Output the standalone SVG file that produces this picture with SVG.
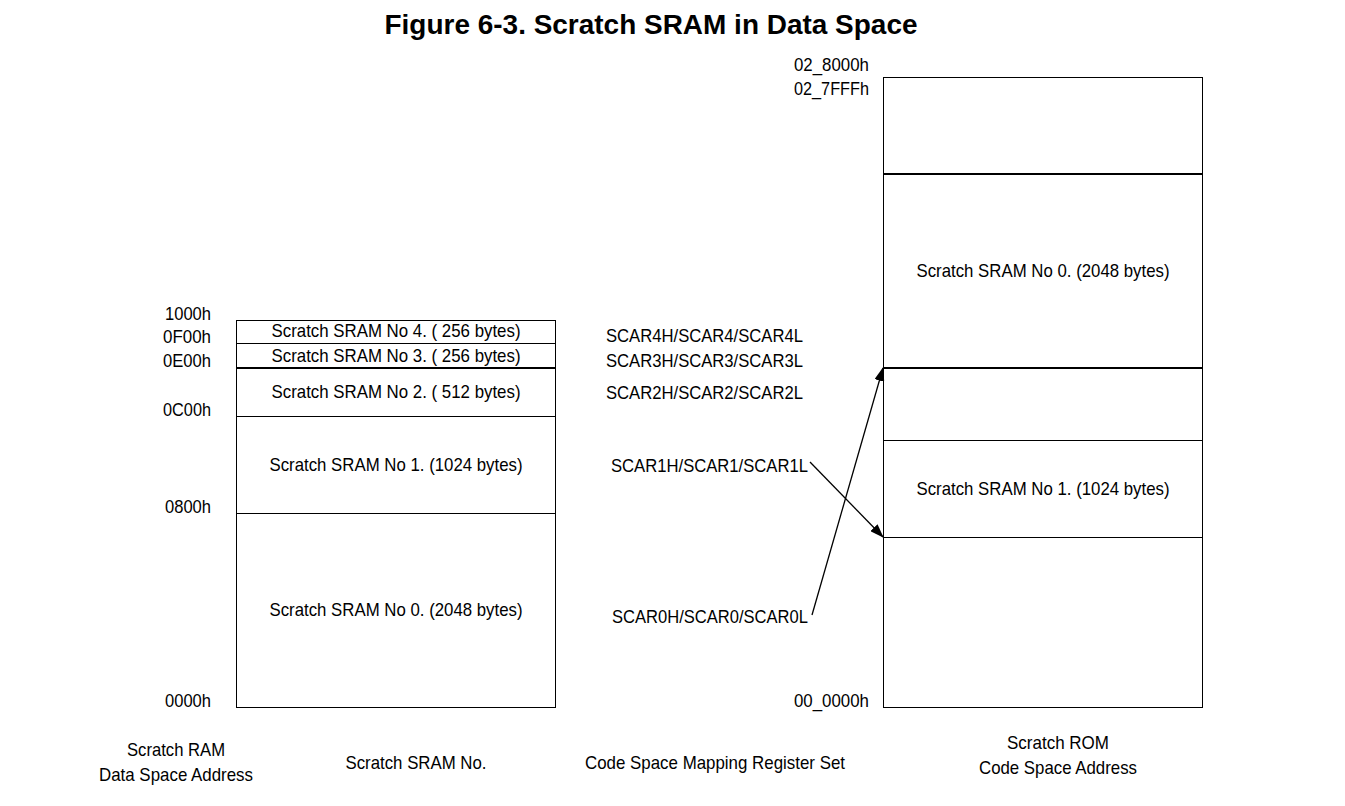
<svg xmlns="http://www.w3.org/2000/svg" width="1345" height="806" viewBox="0 0 1345 806">
<defs>
<marker id="ah" markerWidth="14" markerHeight="10" refX="13" refY="5" orient="auto" markerUnits="userSpaceOnUse"><path d="M0,0 L14,5 L0,10 Z" fill="#000"/></marker>
<style>
text{font-family:"Liberation Sans Narrow","Liberation Sans",Arial,sans-serif;font-size:19px;fill:#000}
.t{font-size:27px;font-weight:bold}
.m{text-anchor:middle}
.r{text-anchor:end}
.b{fill:#fff;stroke:#000;stroke-width:1}
.d{stroke:#000;stroke-width:1;fill:none}
.k{stroke:#000;stroke-width:2;fill:none}
.a{stroke:#000;stroke-width:1.3;fill:none;marker-end:url(#ah)}
</style>
</defs>
<rect width="1345" height="806" fill="#fff"/>
<text class="t m" x="651" y="34" textLength="533" lengthAdjust="spacingAndGlyphs">Figure 6-3. Scratch SRAM in Data Space</text>

<g id="ram">
<rect class="b" x="236.5" y="320.5" width="319" height="387"/>
<line class="d" x1="236" y1="343.5" x2="555" y2="343.5"/>
<line class="k" x1="236" y1="368" x2="555" y2="368"/>
<line class="d" x1="236" y1="416.5" x2="555" y2="416.5"/>
<line class="d" x1="236" y1="513.5" x2="555" y2="513.5"/>
<text class="m" x="396" y="337" textLength="249" lengthAdjust="spacingAndGlyphs">Scratch SRAM No 4. ( 256 bytes)</text>
<text class="m" x="396" y="362" textLength="249" lengthAdjust="spacingAndGlyphs">Scratch SRAM No 3. ( 256 bytes)</text>
<text class="m" x="396" y="398" textLength="249" lengthAdjust="spacingAndGlyphs">Scratch SRAM No 2. ( 512 bytes)</text>
<text class="m" x="396" y="471" textLength="253" lengthAdjust="spacingAndGlyphs">Scratch SRAM No 1. (1024 bytes)</text>
<text class="m" x="396" y="616" textLength="253" lengthAdjust="spacingAndGlyphs">Scratch SRAM No 0. (2048 bytes)</text>
</g>

<g id="ram-addr">
<text class="r" x="211" y="320" textLength="46" lengthAdjust="spacingAndGlyphs">1000h</text>
<text class="r" x="211" y="343" textLength="48" lengthAdjust="spacingAndGlyphs">0F00h</text>
<text class="r" x="211" y="367" textLength="48" lengthAdjust="spacingAndGlyphs">0E00h</text>
<text class="r" x="211" y="416" textLength="48" lengthAdjust="spacingAndGlyphs">0C00h</text>
<text class="r" x="211" y="513" textLength="46" lengthAdjust="spacingAndGlyphs">0800h</text>
<text class="r" x="211" y="707" textLength="46" lengthAdjust="spacingAndGlyphs">0000h</text>
</g>

<g id="regs">
<text x="606" y="342" textLength="197" lengthAdjust="spacingAndGlyphs">SCAR4H/SCAR4/SCAR4L</text>
<text x="606" y="367" textLength="197" lengthAdjust="spacingAndGlyphs">SCAR3H/SCAR3/SCAR3L</text>
<text x="606" y="399" textLength="197" lengthAdjust="spacingAndGlyphs">SCAR2H/SCAR2/SCAR2L</text>
<text x="611" y="472" textLength="197" lengthAdjust="spacingAndGlyphs">SCAR1H/SCAR1/SCAR1L</text>
<text x="612" y="623" textLength="196" lengthAdjust="spacingAndGlyphs">SCAR0H/SCAR0/SCAR0L</text>
</g>

<g id="rom">
<rect class="b" x="883.5" y="77.5" width="319" height="630"/>
<line class="k" x1="883" y1="174" x2="1202" y2="174"/>
<line class="k" x1="883" y1="368" x2="1202" y2="368"/>
<line class="d" x1="883" y1="440.5" x2="1202" y2="440.5"/>
<line class="d" x1="883" y1="537.5" x2="1202" y2="537.5"/>
<text class="m" x="1043" y="277" textLength="253" lengthAdjust="spacingAndGlyphs">Scratch SRAM No 0. (2048 bytes)</text>
<text class="m" x="1043" y="495" textLength="253" lengthAdjust="spacingAndGlyphs">Scratch SRAM No 1. (1024 bytes)</text>
</g>

<g id="rom-addr">
<text class="r" x="869" y="71" textLength="75" lengthAdjust="spacingAndGlyphs">02_8000h</text>
<text class="r" x="869" y="95" textLength="75" lengthAdjust="spacingAndGlyphs">02_7FFFh</text>
<text class="r" x="869" y="707" textLength="75" lengthAdjust="spacingAndGlyphs">00_0000h</text>
</g>

<g id="connectors">
<line class="a" x1="810" y1="462" x2="883" y2="537"/>
<line class="a" x1="812" y1="615" x2="883" y2="368"/>
</g>

<g id="captions">
<text class="m" x="176" y="756" textLength="98" lengthAdjust="spacingAndGlyphs">Scratch RAM</text>
<text class="m" x="176" y="781" textLength="154" lengthAdjust="spacingAndGlyphs">Data Space Address</text>
<text class="m" x="416" y="769" textLength="141" lengthAdjust="spacingAndGlyphs">Scratch SRAM No.</text>
<text class="m" x="715" y="769" textLength="260" lengthAdjust="spacingAndGlyphs">Code Space Mapping Register Set</text>
<text class="m" x="1058" y="749" textLength="102" lengthAdjust="spacingAndGlyphs">Scratch ROM</text>
<text class="m" x="1058" y="774" textLength="158" lengthAdjust="spacingAndGlyphs">Code Space Address</text>
</g>
</svg>
